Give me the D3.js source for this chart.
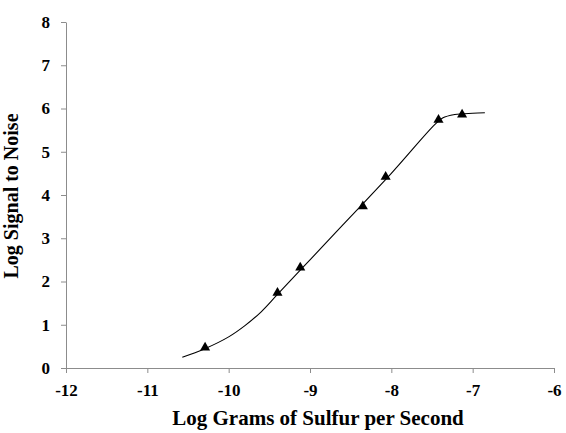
<!DOCTYPE html>
<html>
<head>
<meta charset="utf-8">
<script src="https://cdn.jsdelivr.net/npm/d3@7"></script>
<style>
  body { margin: 0; background: #fff; }
  svg { display: block; font-family: "Liberation Serif", "Times New Roman", serif; font-weight: bold; }
</style>
</head>
<body>
<main></main>
<script>
// measured points (log g S/s, log S/N)
const logSulfur = [-10.29, -9.40, -9.12, -8.35, -8.07, -7.42, -7.13];
const logSignal = [0.47, 1.74, 2.32, 3.74, 4.42, 5.74, 5.86];

// fitted response curve
const fitX = [-10.57, -10.3, -10.0, -9.8, -9.6, -9.4, -9.0, -8.5, -8.0, -7.47, -7.37, -7.22, -7.0, -6.85];
const fitY = [0.25, 0.44, 0.72, 0.98, 1.30, 1.70, 2.50, 3.50, 4.50, 5.62, 5.78, 5.86, 5.89, 5.90];

const xTicks = [-12, -11, -10, -9, -8, -7, -6];
const yTicks = [0, 1, 2, 3, 4, 5, 6, 7, 8];

const w = 566;
const h = 433;
const margin = { top: 22, right: 12, bottom: 65, left: 66 };

const svg = d3.select("main")
  .append("svg")
  .attr("width", w)
  .attr("height", h);

const x = d3.scaleLinear().domain([-12, -6]).range([margin.left, w - margin.right]);
const y = d3.scaleLinear().domain([0, 8]).range([h - margin.bottom, margin.top]);

const xAxis = svg.append("g")
  .attr("transform", `translate(0,${h - margin.bottom})`)
  .call(d3.axisBottom(x).tickValues(xTicks).tickFormat(d => String(d))
    .tickSize(5).tickSizeOuter(0).tickPadding(11));

const yAxis = svg.append("g")
  .attr("transform", `translate(${margin.left},0)`)
  .call(d3.axisLeft(y).tickValues(yTicks).tickFormat(d => String(d))
    .tickSize(5).tickSizeOuter(0).tickPadding(11));

[xAxis, yAxis].forEach(g => {
  g.selectAll("path, line").attr("stroke", "#8c8c8c");
  g.selectAll("text")
    .attr("fill", "#000")
    .style("font-family", "'Liberation Serif', 'Times New Roman', serif")
    .style("font-weight", "bold")
    .style("font-size", "17px");
});

const fit = fitX.map((d, i) => [d, fitY[i]]);
svg.append("path")
  .datum(fit)
  .attr("fill", "none")
  .attr("stroke", "#000")
  .attr("stroke-width", 1.1)
  .attr("d", d3.line().x(d => x(d[0])).y(d => y(d[1])).curve(d3.curveCatmullRom));

svg.append("g")
  .selectAll("path")
  .data(logSulfur.map((d, i) => [d, logSignal[i]]))
  .enter()
  .append("path")
  .attr("transform", d => `translate(${x(d[0])},${y(d[1])})`)
  .attr("d", d3.symbol().type(d3.symbolTriangle).size(44))
  .attr("fill", "#000");

svg.append("text")
  .attr("x", 318)
  .attr("y", 425)
  .attr("text-anchor", "middle")
  .style("font-size", "21px")
  .text("Log Grams of Sulfur per Second");

svg.append("text")
  .attr("transform", "translate(18,196) rotate(-90)")
  .attr("text-anchor", "middle")
  .style("font-size", "20px")
  .text("Log Signal to Noise");
</script>
</body>
</html>
